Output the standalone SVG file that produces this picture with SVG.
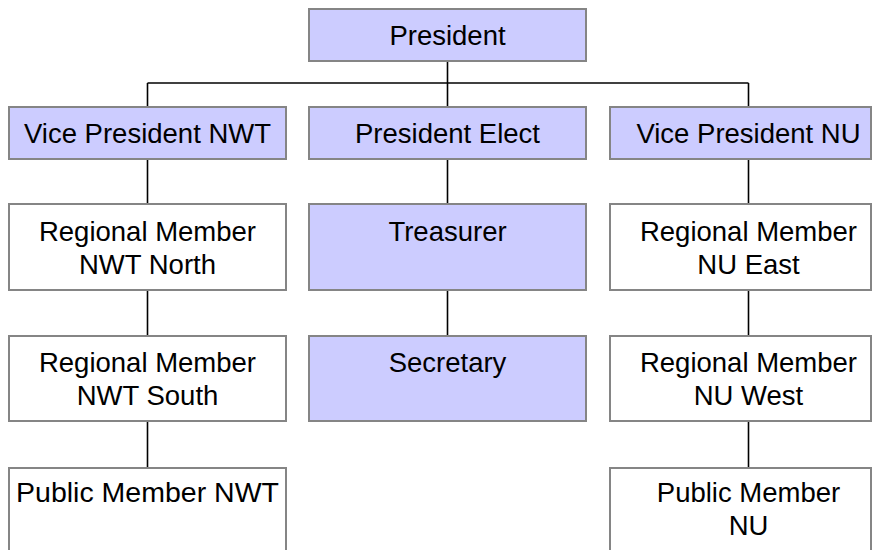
<svg xmlns="http://www.w3.org/2000/svg" width="874" height="550" viewBox="0 0 874 550">
<style>
  .box{stroke:#858585;stroke-width:2}
  .hi{fill:#ccccff}
  .lo{fill:#ffffff}
  text{font-family:"Liberation Sans",Arial,sans-serif;font-size:27.5px;fill:#000;text-anchor:middle}
  .conn line{stroke:#000;stroke-width:1.6}
</style>
<rect width="874" height="550" fill="#ffffff"/>
<g class="conn">
  <line x1="447.5" y1="61" x2="447.5" y2="83"/>
  <line x1="147.5" y1="83" x2="748.5" y2="83"/>
  <line x1="147.5" y1="83" x2="147.5" y2="107"/>
  <line x1="447.5" y1="83" x2="447.5" y2="107"/>
  <line x1="748.5" y1="83" x2="748.5" y2="107"/>
  <line x1="147.5" y1="159" x2="147.5" y2="204"/>
  <line x1="147.5" y1="290" x2="147.5" y2="336"/>
  <line x1="147.5" y1="421" x2="147.5" y2="468"/>
  <line x1="447.5" y1="159" x2="447.5" y2="204"/>
  <line x1="447.5" y1="290" x2="447.5" y2="336"/>
  <line x1="748.5" y1="159" x2="748.5" y2="204"/>
  <line x1="748.5" y1="290" x2="748.5" y2="336"/>
  <line x1="748.5" y1="421" x2="748.5" y2="468"/>
</g>
<g id="president"><rect class="box hi" x="309" y="9" width="277" height="52"/><text x="447.5" y="45">President</text></g>
<g id="vp-nwt"><rect class="box hi" x="9" y="107" width="277" height="52"/><text x="147.5" y="143">Vice President NWT</text></g>
<g id="president-elect"><rect class="box hi" x="309" y="107" width="277" height="52"/><text x="447.5" y="143">President Elect</text></g>
<g id="vp-nu"><rect class="box hi" x="610" y="107" width="261" height="52"/><text x="748.5" y="143">Vice President NU</text></g>
<g id="rm-nwt-north"><rect class="box lo" x="9" y="204" width="277" height="86"/><text x="147.5" y="241">Regional Member</text><text x="147.5" y="274">NWT North</text></g>
<g id="treasurer"><rect class="box hi" x="309" y="204" width="277" height="86"/><text x="447.5" y="241">Treasurer</text></g>
<g id="rm-nu-east"><rect class="box lo" x="610" y="204" width="261" height="86"/><text x="748.5" y="241">Regional Member</text><text x="748.5" y="274">NU East</text></g>
<g id="rm-nwt-south"><rect class="box lo" x="9" y="336" width="277" height="85"/><text x="147.5" y="372">Regional Member</text><text x="147.5" y="405">NWT South</text></g>
<g id="secretary"><rect class="box hi" x="309" y="336" width="277" height="85"/><text x="447.5" y="372">Secretary</text></g>
<g id="rm-nu-west"><rect class="box lo" x="610" y="336" width="261" height="85"/><text x="748.5" y="372">Regional Member</text><text x="748.5" y="405">NU West</text></g>
<g id="pm-nwt"><rect class="box lo" x="9" y="468" width="277" height="86"/><text x="147.5" y="502" style="font-size:28.5px">Public Member NWT</text></g>
<g id="pm-nu"><rect class="box lo" x="610" y="468" width="261" height="86"/><text x="748.5" y="502">Public Member</text><text x="748.5" y="535">NU</text></g>
</svg>
